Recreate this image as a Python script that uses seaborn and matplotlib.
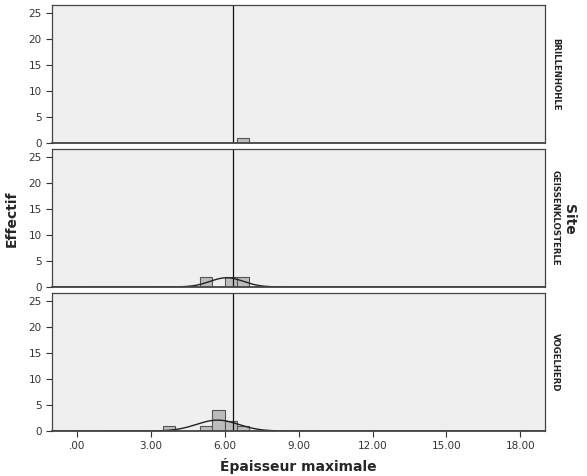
import numpy as np
import pandas as pd
import matplotlib
matplotlib.use("Agg")
import matplotlib.pyplot as plt
import seaborn as sns

# Épaisseur maximale per site (bins of 0.5)
sites = ["BRILLENHOHLE", "GEISSENKLOSTERLE", "VOGELHERD"]
brillenhohle = [6.7]
geissenklosterle = [5.2, 5.3, 6.2, 6.4, 6.6, 6.8]
vogelherd = [3.8, 5.2, 5.6, 5.7, 5.8, 5.9, 6.2, 6.4, 6.8]
ref_line = 6.34
x_ticks = [0, 3, 6, 9, 12, 15, 18]
y_ticks = [0, 5, 10, 15, 20, 25]

df = pd.DataFrame({
    "Site": ["BRILLENHOHLE"] * len(brillenhohle)
            + ["GEISSENKLOSTERLE"] * len(geissenklosterle)
            + ["VOGELHERD"] * len(vogelherd),
    "Epaisseur": brillenhohle + geissenklosterle + vogelherd,
})

sns.set_style("white")
plt.rcParams['font.family'] = ['DejaVu Sans']

BG = "#efefef"
EDGE = "#444444"

fig, axes = plt.subplots(3, 1, figsize=(5.87, 4.76), dpi=100, sharex=True)
fig.subplots_adjust(left=0.089, right=0.9285, top=0.9895, bottom=0.0945, hspace=0.045)

for ax, site in zip(axes, sites):
    sub = df[df["Site"] == site]
    ax.set_facecolor(BG)
    sns.histplot(data=sub, x="Epaisseur", binwidth=0.5, binrange=(3.5, 7.0),
                 color="#bcbcbc", edgecolor="#555555", linewidth=0.8,
                 alpha=1, ax=ax)
    # normal curve (SPSS style) fitted on the site's values
    vals = sub["Epaisseur"].to_numpy()
    if len(vals) > 1:
        mu, sd = vals.mean(), vals.std(ddof=1)
        xs = np.linspace(-1, 19, 600)
        ys = len(vals) * 0.5 * np.exp(-0.5 * ((xs - mu) / sd) ** 2) / (sd * np.sqrt(2 * np.pi))
        sns.lineplot(x=xs, y=ys, color="#222222", linewidth=1.0, ax=ax)
    ax.axvline(ref_line, color="#111111", linewidth=0.9)
    ax.set_xlim(-1, 19)
    ax.set_ylim(0, 26.5)
    ax.set_yticks(y_ticks)
    ax.set_xticks(x_ticks)
    ax.set_xticklabels([".00" if t == 0 else f"{t:.2f}" for t in x_ticks])
    ax.tick_params(axis="both", direction="out", length=4, width=0.8,
                   colors="#333333", labelsize=7.5, bottom=True, left=True)
    ax.set_ylabel("")
    ax.set_xlabel("")
    for s in ax.spines.values():
        s.set_color(EDGE)
        s.set_linewidth(0.9)
    ax.spines["bottom"].set_linewidth(1.3)
    ax.text(1.012, 0.5, site, transform=ax.transAxes, rotation=-90,
            ha="left", va="center", fontsize=6.2, fontweight="bold", color="#222222")

for ax in axes[:-1]:
    ax.tick_params(axis="x", bottom=False, labelbottom=False)

axes[-1].set_xlabel("Épaisseur maximale", fontsize=10, fontweight="bold", labelpad=5)
fig.text(0.02, 0.54, "Effectif", rotation=90, ha="center", va="center",
         fontsize=10, fontweight="bold")
fig.text(0.969, 0.54, "Site", rotation=-90, ha="center", va="center",
         fontsize=10, fontweight="bold")

fig.savefig("out.png", dpi=100)
